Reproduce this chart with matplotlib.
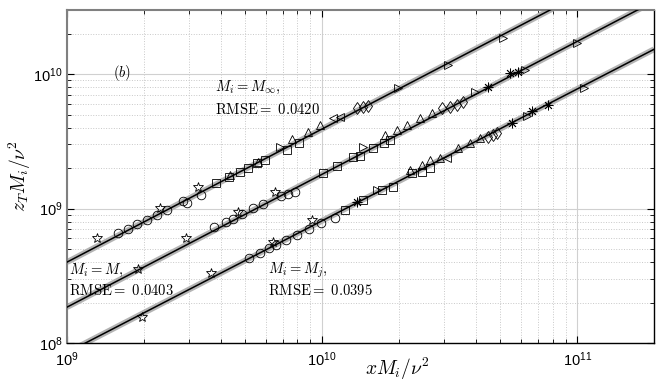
import numpy as np
import matplotlib
matplotlib.use('Agg')
import matplotlib.pyplot as plt

plt.rcParams['font.family'] = ['Liberation Sans', 'DejaVu Sans']
plt.rcParams['mathtext.fontset'] = 'custom'
plt.rcParams['mathtext.rm'] = 'Liberation Sans'
plt.rcParams['mathtext.it'] = 'Liberation Sans:italic'

# fit lines: y = a * (x/1e9)^b
fit_a = [4.0e8, 1.85e8, 8.5e7]
fit_b = [0.99, 0.988, 0.98]

# marker codes: 'p' star, 'o' circle, 's' square, '^' up, '>' right, '<' left, 'd' diamond, 'x' asterisk

# M_i = M_inf
inf_x = [1.31e9, 2.32e9, 3.27e9,
         1.58e9, 1.73e9, 1.88e9, 2.06e9, 2.25e9, 2.47e9, 2.85e9, 2.96e9, 3.35e9,
         3.84e9, 4.31e9, 4.77e9, 5.13e9, 5.56e9, 5.97e9, 7.29e9, 8.12e9,
         4.35e9, 5.61e9, 7.62e9, 8.81e9, 9.82e9,
         6.84e9, 1.99e10, 3.12e10, 5.13e10,
         1.10e10, 1.18e10,
         1.37e10, 1.45e10, 1.51e10]
inf_y = [6.04e8, 1.01e9, 1.45e9,
         6.58e8, 7.05e8, 7.68e8, 8.21e8, 8.95e8, 9.77e8, 1.14e9, 1.10e9, 1.26e9,
         1.55e9, 1.72e9, 1.87e9, 2.00e9, 2.18e9, 2.29e9, 2.72e9, 3.07e9,
         1.77e9, 2.22e9, 3.29e9, 3.71e9, 4.18e9,
         2.86e9, 7.87e9, 1.17e10, 1.85e10,
         4.71e9, 4.79e9,
         5.58e9, 5.68e9, 5.78e9]
inf_m = ['p'] * 3 + ['o'] * 9 + ['s'] * 8 + ['^'] * 5 + ['>'] * 4 + ['<'] * 2 + ['d'] * 3

# M_i = M
m_x = [1.90e9, 2.93e9, 4.69e9, 6.55e9,
       3.77e9, 4.20e9, 4.48e9, 4.86e9, 5.36e9, 5.87e9, 6.90e9, 7.36e9, 7.83e9,
       1.01e10, 1.14e10, 1.32e10, 1.41e10, 1.58e10, 1.75e10, 1.85e10,
       1.44e10, 3.98e10, 6.25e10, 1.0e11,
       1.77e10, 1.97e10, 2.15e10, 2.42e10, 2.70e10,
       2.96e10, 3.18e10, 3.38e10, 3.57e10,
       4.48e10, 5.46e10, 5.87e10]
m_y = [3.55e8, 6.04e8, 9.42e8, 1.33e9,
       7.28e8, 7.93e8, 8.35e8, 9.10e8, 1.01e9, 1.08e9, 1.24e9, 1.28e9, 1.33e9,
       1.84e9, 2.07e9, 2.42e9, 2.46e9, 2.82e9, 3.07e9, 3.23e9,
       2.87e9, 7.35e9, 1.07e10, 1.70e10,
       3.52e9, 3.83e9, 4.18e9, 4.71e9, 5.13e9,
       5.58e9, 5.68e9, 5.89e9, 6.20e9,
       8.00e9, 1.02e10, 1.03e10]
m_m = ['p'] * 4 + ['o'] * 9 + ['s'] * 7 + ['>'] * 4 + ['^'] * 5 + ['d'] * 4 + ['x'] * 3

# M_i = M_j
mj_x = [1.97e9, 3.67e9, 6.43e9, 9.14e9,
        5.18e9, 5.72e9, 6.20e9, 6.60e9, 7.22e9, 7.98e9, 8.89e9, 9.91e9, 1.12e10,
        1.23e10, 1.45e10, 1.72e10, 1.90e10, 2.25e10, 2.47e10, 2.65e10,
        1.64e10, 6.37e10, 1.06e11,
        1.37e10, 5.56e10, 6.67e10, 7.69e10,
        2.21e10, 2.47e10, 2.65e10, 2.91e10, 3.41e10, 3.80e10, 4.17e10,
        3.09e10,
        4.48e10, 4.69e10, 4.86e10]
mj_y = [1.56e8, 3.31e8, 5.64e8, 8.21e8,
        4.28e8, 4.67e8, 5.08e8, 5.35e8, 5.84e8, 6.36e8, 7.05e8, 7.80e8, 8.49e8,
        9.75e8, 1.16e9, 1.37e9, 1.45e9, 1.84e9, 1.87e9, 2.00e9,
        1.37e9, 4.88e9, 7.87e9,
        1.12e9, 4.33e9, 5.31e9, 5.89e9,
        1.93e9, 2.10e9, 2.29e9, 2.37e9, 2.82e9, 3.07e9, 3.34e9,
        2.37e9,
        3.40e9, 3.52e9, 3.64e9]
mj_m = ['p'] * 4 + ['o'] * 9 + ['s'] * 7 + ['>'] * 3 + ['x'] * 4 + ['^'] * 7 + ['<'] + ['d'] * 3

fig = plt.figure(figsize=(6.64, 3.82), dpi=100)
ax = fig.add_axes([0.101, 0.102, 0.884, 0.872])

# fitted lines with grey band under them
xx = np.logspace(9, np.log10(2e11), 200)
for a, b in zip(fit_a, fit_b):
    yy = a * (xx / 1e9) ** b
    ax.plot(xx, yy, color='#b4b4b4', lw=4.2, solid_capstyle='butt', zorder=2)
    ax.plot(xx, yy, color='black', lw=1.1, zorder=3)

mk_map = {'p': '*', 'x': (8, 2, 0)}
mk_size = {'p': 7.5, 'x': 7}
for xs, ys, ms in [(inf_x, inf_y, inf_m), (m_x, m_y, m_m), (mj_x, mj_y, mj_m)]:
    xs = np.array(xs)
    ys = np.array(ys)
    ms = np.array(ms)
    for m in np.unique(ms):
        sel = ms == m
        ax.plot(xs[sel], ys[sel], linestyle='none', marker=mk_map.get(m, m),
                markersize=mk_size.get(m, 6.2), markerfacecolor='none',
                markeredgecolor='black', markeredgewidth=0.6, zorder=4)

ax.set_xscale('log')
ax.set_yscale('log')
ax.set_xlim(1e9, 2e11)
ax.set_ylim(1e8, 3e10)

ax.grid(True, which='major', color='#d0d0d0', linestyle='-', linewidth=0.8)
ax.grid(True, which='minor', color='#c8c8c8', linestyle=':', linewidth=0.7)
ax.set_axisbelow(True)
ax.tick_params(which='both', direction='in', top=True, right=True, labelsize=10.5)
ax.tick_params(which='major', length=5, pad=3)
ax.tick_params(axis='x', which='major', pad=5)
ax.tick_params(which='minor', length=3)
for side in ['top', 'left']:
    ax.spines[side].set_color('#808080')
    ax.spines[side].set_linewidth(1.5)
for side in ['bottom', 'right']:
    ax.spines[side].set_color('black')
    ax.spines[side].set_linewidth(1.0)

cm = dict(math_fontfamily='cm', fontsize=10.5, va='center', transform=ax.transAxes)
ax.text(0.078, 0.81, r'$(b)$', **cm)
ax.text(0.252, 0.766, r'$M_i = M_\infty,$', **cm)
ax.text(0.252, 0.70, r'$\mathrm{RMSE}{=}\ 0.0420$', **cm)
ax.text(0.003, 0.219, r'$M_i = M,$', **cm)
ax.text(0.003, 0.159, r'$\mathrm{RMSE}{=}\ 0.0403$', **cm)
ax.text(0.342, 0.219, r'$M_i = M_j,$', **cm)
ax.text(0.342, 0.159, r'$\mathrm{RMSE}{=}\ 0.0395$', **cm)

ax.set_xlabel(r'$xM_i/\nu^2$', math_fontfamily='cm', fontsize=14)
ax.set_ylabel(r'$z_T M_i/\nu^2$', math_fontfamily='cm', fontsize=14)
ax.xaxis.set_label_coords(0.562, -0.078)
ax.yaxis.set_label_coords(-0.08, 0.5)
ax.xaxis.label.set_va('center')
ax.yaxis.label.set_va('center')

fig.savefig('out.png', dpi=100)
